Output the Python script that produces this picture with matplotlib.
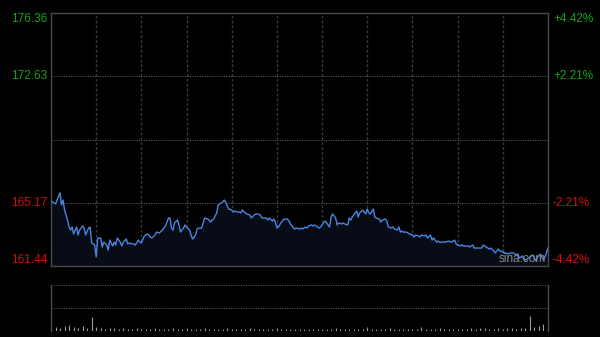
import matplotlib
matplotlib.use("Agg")
import matplotlib.pyplot as plt

# intraday minutes (0..330) and price
minutes = [0, 3, 6, 7, 8, 9, 11, 12, 13, 14, 15, 17, 18, 19, 21, 22, 23, 25, 26, 27,
           29, 30, 31, 33, 34, 35, 37, 38, 39, 41, 42, 43, 44, 46, 47, 48, 50, 51, 52, 54,
           55, 56, 58, 59, 60, 62, 64, 66, 67, 69, 70, 72, 74, 76, 78, 79, 80, 81, 82, 84,
           85, 86, 88, 89, 90, 92, 93, 94, 96, 97, 98, 100, 101, 102, 104, 105, 106, 107, 108, 110,
           111, 112, 114, 115, 116, 117, 118, 120, 121, 122, 124, 125, 126, 127, 129, 130, 132, 133, 135, 136,
           137, 139, 140, 141, 143, 144, 145, 147, 148, 149, 150, 151, 153, 154, 155, 157, 158, 159, 161, 162,
           163, 165, 166, 167, 169, 170, 171, 173, 174, 175, 177, 178, 179, 181, 182, 183, 185, 186, 187, 189,
           190, 191, 193, 194, 195, 197, 198, 199, 200, 201, 203, 204, 205, 207, 208, 209, 210, 211, 212, 214,
           215, 216, 218, 219, 220, 222, 223, 224, 226, 227, 228, 230, 231, 232, 233, 234, 236, 237, 238, 240,
           241, 242, 244, 245, 246, 248, 249, 250, 252, 253, 254, 256, 257, 258, 260, 261, 262, 264, 265, 266,
           268, 269, 270, 272, 273, 274, 276, 277, 278, 280, 281, 282, 284, 286, 287, 288, 290, 291, 292, 294,
           295, 297, 298, 299, 301, 302, 303, 305, 306, 307, 309, 310, 311, 313, 314, 315, 318, 320, 322, 323,
           325, 327, 329, 330]
price = [165.27, 165.10, 165.75, 165.04, 165.33, 164.74, 164.15, 163.74, 163.56, 163.74,
         163.33, 163.74, 163.27, 163.56, 163.80, 163.68, 163.27, 163.68, 163.74, 162.80,
         162.68, 161.97, 163.09, 163.09, 162.56, 162.85, 162.68, 162.38, 162.97, 162.62,
         162.85, 162.68, 163.09, 162.85, 162.62, 162.85, 163.03, 162.74, 162.80, 162.74,
         162.74, 162.68, 162.97, 162.85, 162.80, 163.21, 163.33, 163.15, 163.09, 163.27,
         163.44, 163.39, 163.56, 163.80, 164.27, 164.27, 163.68, 163.56, 163.98, 164.15,
         163.86, 163.44, 163.68, 163.86, 163.74, 163.56, 163.27, 163.03, 163.27, 163.62,
         163.68, 163.68, 163.98, 164.27, 164.21, 164.15, 164.03, 164.15, 164.21, 164.57,
         165.04, 165.10, 165.21, 165.33, 165.21, 164.98, 164.80, 164.74, 164.62, 164.68,
         164.62, 164.62, 164.57, 164.74, 164.57, 164.51, 164.45, 164.27, 164.45, 164.51,
         164.51, 164.45, 164.27, 164.27, 164.27, 164.15, 164.27, 164.09, 164.21, 164.03,
         163.68, 163.74, 164.03, 164.15, 164.21, 164.21, 164.09, 163.92, 163.68, 163.62,
         163.68, 163.62, 163.68, 163.62, 163.74, 163.68, 163.80, 163.86, 163.80, 163.86,
         163.74, 163.68, 163.74, 163.98, 164.09, 163.98, 163.74, 164.33, 164.51, 164.27,
         163.86, 163.98, 163.92, 163.98, 163.92, 163.86, 164.27, 164.15, 164.33, 164.45,
         164.68, 164.33, 164.57, 164.74, 164.62, 164.51, 164.80, 164.57, 164.51, 164.80,
         164.33, 164.27, 164.21, 164.03, 164.15, 164.21, 164.09, 163.74, 163.68, 163.74,
         163.62, 163.56, 163.74, 163.44, 163.50, 163.44, 163.44, 163.39, 163.33, 163.27,
         163.15, 163.27, 163.21, 163.15, 163.27, 163.21, 163.27, 163.09, 163.27, 162.97,
         163.09, 162.85, 162.91, 162.85, 162.85, 162.85, 162.85, 162.91, 162.85, 162.85,
         162.97, 162.74, 162.68, 162.62, 162.68, 162.62, 162.62, 162.62, 162.56, 162.68,
         162.50, 162.50, 162.50, 162.50, 162.68, 162.62, 162.50, 162.44, 162.50, 162.32,
         162.21, 162.44, 162.32, 162.32, 162.21, 162.21, 162.15, 162.21, 162.21, 162.21,
         162.09, 162.15, 161.91, 162.03, 161.85, 161.79, 161.97, 162.09, 161.73, 161.97,
         162.15, 161.79, 162.21, 162.50]

# volume, one value every 3 minutes (arbitrary units)
vol_minutes = list(range(0, 331, 3))
volume = [3, 4, 3, 5, 6, 4, 3, 5, 3, 14, 4, 3, 2, 3, 3, 2, 3, 2, 2, 3,
          2, 2, 2, 3, 2, 2, 2, 3, 2, 2, 3, 2, 2, 2, 3, 2, 2, 2, 2, 3,
          2, 2, 2, 2, 3, 2, 2, 2, 2, 2, 3, 2, 2, 2, 2, 2, 2, 2, 2, 2,
          2, 2, 2, 3, 2, 2, 2, 2, 2, 2, 4, 2, 2, 2, 2, 3, 2, 2, 2, 2,
          2, 2, 4, 2, 2, 2, 3, 2, 2, 2, 2, 2, 2, 3, 2, 3, 3, 2, 2, 3,
          2, 3, 3, 2, 3, 3, 15, 4, 5, 7, 3]

prev_close = 168.90
y_ticks = [176.36, 172.63, 168.90, 165.17, 161.44]
left_labels = ["176.36", "172.63", "", "165.17", "161.44"]
right_labels = ["+4.42%", "+2.21%", "", "-2.21%", "-4.42%"]

green = "#14a314"
red = "#d01010"

fig = plt.figure(figsize=(6, 3.37), dpi=100, facecolor="black")
ax = fig.add_axes([51 / 600, 1 - 266 / 337, 497 / 600, 253 / 337])
axv = fig.add_axes([51 / 600, 1 - 331 / 337, 497 / 600, 46 / 337])

for a in (ax, axv):
    a.set_facecolor("black")
    a.set_xticks([])
    a.set_yticks([])
    for s in a.spines.values():
        s.set_color("#4a4a4a")
        s.set_linewidth(1)

ax.set_xlim(0, 330)
ax.set_ylim(y_ticks[-1], y_ticks[0])

# vertical grid every half hour
for m in range(30, 330, 30):
    ax.axvline(m, color="#3a3a3a", lw=1, ls=(0, (2, 1.5)), zorder=1)
for v in y_ticks[1:-1]:
    ax.axhline(v, color="#666666", lw=0.7, ls=(0, (1, 1.5)), zorder=1)

ax.fill_between(minutes, price, y_ticks[-1], color="#080c16", zorder=2, lw=0)
ax.plot(minutes, price, color="#4a86e0", lw=1.0, zorder=3)

for v, lab in zip(y_ticks, left_labels):
    if not lab:
        continue
    col = green if v > prev_close else red
    va = "center"
    if v == y_ticks[0]:
        va = "top"
    elif v == y_ticks[-1]:
        va = "bottom"
    ax.text(-0.008, v, lab, transform=ax.get_yaxis_transform(), ha="right", va=va,
            color=col, fontsize=8.5, family="Liberation Sans")
for v, lab in zip(y_ticks, right_labels):
    if not lab:
        continue
    col = green if v > prev_close else red
    va = "center"
    if v == y_ticks[0]:
        va = "top"
    elif v == y_ticks[-1]:
        va = "bottom"
    ax.text(1.01, v, lab, transform=ax.get_yaxis_transform(), ha="left", va=va,
            color=col, fontsize=8.5, family="Liberation Sans")

ax.text(0.90, 0.005, "sina.com", transform=ax.transAxes, ha="left", va="bottom",
        color="#8a8a8a", fontsize=8.5, family="Liberation Sans", zorder=4)

# volume panel
axv.set_xlim(0, 330)
axv.set_ylim(0, 46)
axv.spines["top"].set_visible(False)
axv.spines["bottom"].set_visible(False)
axv.axhline(46, color="#666666", lw=0.7, ls=(0, (1, 1.5)))
axv.axhline(23, color="#666666", lw=0.7, ls=(0, (1, 1.5)))
axv.vlines(vol_minutes, 0, volume, color="#9a9a9a", lw=0.8)

fig.savefig("out.png", dpi=100, facecolor="black")
